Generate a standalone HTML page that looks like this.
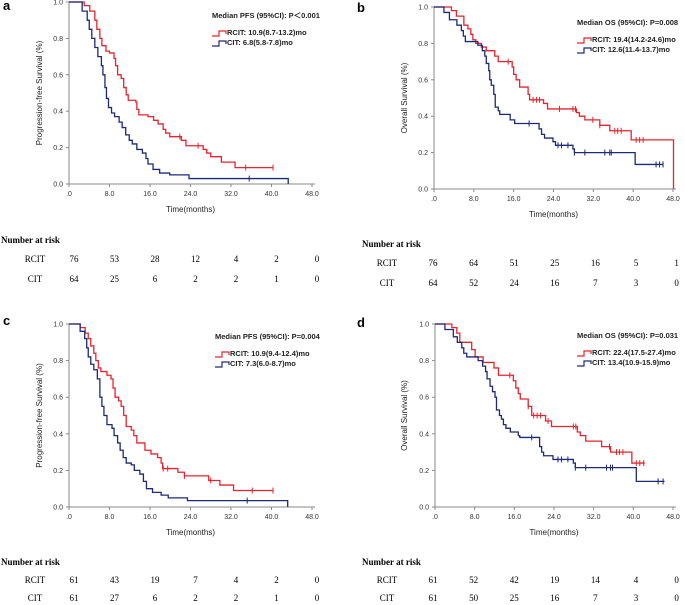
<!DOCTYPE html>
<html><head><meta charset="utf-8">
<style>
html,body{margin:0;padding:0;background:#fff;}
svg{display:block;font-family:"Liberation Sans",Arial,sans-serif;}
.serif{font-family:"Liberation Serif","Times New Roman",serif;}
</style></head>
<body>
<svg id="fig" width="685" height="605" viewBox="0 0 685 605" xmlns="http://www.w3.org/2000/svg"></svg>
<script>
// ---------- DATA ----------
const xTicks = [0, 8, 16, 24, 32, 40, 48];
const xTickLabels = [".0", "8.0", "16.0", "24.0", "32.0", "40.0", "48.0"];
const yTicks = [0, 0.2, 0.4, 0.6, 0.8, 1.0];
const yTickLabels = ["0.0", "0.2", "0.4", "0.6", "0.8", "1.0"];

// [time at which level starts, survival level]
const aRed = [[0,1],[3.0,0.98],[4.1,0.95],[5.1,0.9],[5.5,0.85],[6.1,0.8],[6.5,0.76],[7.3,0.73],[8.0,0.72],[8.9,0.69],[9.2,0.65],[9.6,0.6],[10.3,0.58],[10.8,0.53],[11.3,0.49],[11.7,0.46],[13.2,0.45],[13.4,0.41],[13.8,0.38],[15.6,0.37],[16.7,0.35],[17.6,0.33],[18.6,0.3],[19.1,0.28],[19.9,0.26],[22.2,0.24],[23.1,0.21],[26.5,0.19],[27.2,0.17],[28.0,0.15],[30.1,0.12],[32.8,0.09],[40.3,0.09]];
const aRedCens = [21.9, 25.5, 34.9, 40.3];
const aBlue = [[0,1],[2.6,0.95],[3.6,0.9],[4.0,0.85],[4.5,0.8],[5.1,0.75],[5.7,0.7],[6.4,0.65],[6.7,0.6],[7.1,0.53],[7.4,0.47],[7.8,0.42],[8.4,0.39],[9.0,0.37],[9.9,0.34],[10.5,0.31],[11.2,0.27],[11.9,0.24],[12.5,0.22],[13.4,0.19],[14.5,0.17],[15.2,0.14],[15.6,0.11],[16.6,0.08],[17.9,0.06],[19.9,0.05],[23.7,0.03],[43.3,0]];
const aBlueCens = [35.6];

const bRed = [[0,1],[3.5,0.98],[4.5,0.95],[6.0,0.9],[6.8,0.88],[7.4,0.85],[7.8,0.82],[8.4,0.8],[9.5,0.78],[10.5,0.76],[12.2,0.73],[12.9,0.7],[15.7,0.67],[16.0,0.63],[16.5,0.6],[17.2,0.56],[18.9,0.52],[19.2,0.49],[22.0,0.47],[22.8,0.44],[28.6,0.42],[29.2,0.4],[30.3,0.38],[33.3,0.35],[35.3,0.32],[39.6,0.27],[48.1,0]];
const bRedCens = [14.9, 19.9, 20.6, 21.2, 25.2, 27.9, 28.4, 31.9, 33.3, 36.3, 36.9, 37.6, 40.6, 41.3, 42.0];
const bBlue = [[0,1],[2.0,0.97],[3.1,0.93],[4.6,0.9],[5.5,0.87],[5.9,0.84],[6.3,0.81],[8.8,0.79],[9.7,0.76],[10.2,0.73],[10.5,0.69],[11.0,0.65],[11.2,0.6],[11.5,0.57],[12.0,0.52],[12.3,0.45],[12.9,0.43],[13.2,0.41],[15.3,0.38],[16.2,0.36],[21.1,0.33],[21.6,0.3],[22.2,0.28],[23.9,0.26],[24.4,0.24],[27.9,0.22],[28.2,0.2],[40.4,0.135],[46.0,0.135]];
const bBlueCens = [19.1, 24.9, 25.6, 26.9, 28.2, 30.3, 34.3, 35.3, 35.6, 44.6, 45.3, 46.0];

const cRed = [[0,1],[2.2,0.98],[3.2,0.95],[3.8,0.92],[4.3,0.88],[4.9,0.84],[5.3,0.8],[5.8,0.76],[6.3,0.74],[7.5,0.72],[8.3,0.7],[8.7,0.65],[9.1,0.6],[9.8,0.58],[10.3,0.55],[10.8,0.5],[11.3,0.44],[12.3,0.42],[12.8,0.39],[13.4,0.35],[15.0,0.31],[16.2,0.29],[17.5,0.27],[18.2,0.24],[18.5,0.21],[21.5,0.19],[22.8,0.17],[27.6,0.145],[29.8,0.12],[32.5,0.09],[40.3,0.09]];
const cRedCens = [18.6, 19.5, 22.8, 28.0, 36.2, 40.3];
const cBlue = [[0,1],[2.2,0.96],[3.1,0.92],[3.5,0.87],[3.8,0.82],[4.3,0.78],[4.9,0.75],[5.6,0.7],[6.1,0.6],[6.5,0.55],[6.9,0.5],[7.5,0.45],[8.5,0.43],[8.9,0.39],[9.6,0.35],[10.1,0.31],[10.7,0.27],[11.3,0.24],[12.3,0.23],[12.9,0.2],[14.0,0.18],[14.7,0.14],[15.3,0.1],[16.5,0.08],[18.2,0.065],[19.6,0.05],[23.4,0.035],[43.2,0]];
const cBlueCens = [35.2];

const dRed = [[0,1],[3.4,0.98],[4.4,0.95],[5.0,0.9],[7.4,0.86],[8.1,0.82],[9.7,0.79],[11.9,0.76],[12.8,0.72],[15.8,0.69],[16.3,0.65],[16.8,0.62],[17.2,0.59],[18.8,0.55],[19.5,0.5],[22.3,0.47],[23.5,0.44],[28.7,0.41],[29.3,0.39],[30.4,0.36],[33.6,0.33],[35.4,0.3],[39.7,0.24],[42.3,0.24]];
const dRedCens = [15.1, 18.8, 19.9, 20.6, 21.3, 22.8, 27.9, 28.4, 35.2, 36.6, 37.2, 37.9, 40.6, 41.3, 42.1];
const dBlue = [[0,1],[2.0,0.97],[3.7,0.93],[4.5,0.9],[5.4,0.87],[5.8,0.84],[6.4,0.82],[8.7,0.8],[9.6,0.77],[10.2,0.74],[10.5,0.7],[11.1,0.66],[11.6,0.63],[12.1,0.6],[12.4,0.53],[13.0,0.5],[13.4,0.48],[13.8,0.45],[14.3,0.43],[15.2,0.41],[16.8,0.39],[17.1,0.38],[21.1,0.33],[21.5,0.3],[21.9,0.28],[23.8,0.26],[27.9,0.24],[28.3,0.215],[40.6,0.14],[46.3,0.14]];
const dBlueCens = [19.5, 24.8, 25.5, 26.8, 28.3, 30.4, 34.6, 35.4, 35.8, 45.0, 46.0];

const riskGroups = ["RCIT", "CIT"];
const aRiskRCIT = [76, 53, 28, 12, 4, 2, 0];
const aRiskCIT = [64, 25, 6, 2, 2, 1, 0];
const bRiskRCIT = [76, 64, 51, 25, 16, 5, 1];
const bRiskCIT = [64, 52, 24, 16, 7, 3, 0];
const cRiskRCIT = [61, 43, 19, 7, 4, 2, 0];
const cRiskCIT = [61, 27, 6, 2, 2, 1, 0];
const dRiskRCIT = [61, 52, 42, 19, 14, 4, 0];
const dRiskCIT = [61, 50, 25, 16, 7, 3, 0];

// ---------- RENDER ----------
const NS = "http://www.w3.org/2000/svg";
const svg = document.getElementById("fig");
const RED = "#e8232f", BLUE = "#1c2a78", AX = "#8a8a8a";

function mk(tag, attrs, parent, text) {
  const e = document.createElementNS(NS, tag);
  for (const k in attrs) e.setAttribute(k, attrs[k]);
  if (text !== undefined) e.textContent = text;
  (parent || svg).appendChild(e);
  return e;
}

function panel(p) {
  const g = mk("g", {});
  
  
  const sx = t => p.x0 + (t / 48) * (p.x1 - p.x0);
  const sy = s => p.y0 - s * (p.y0 - p.y1);

  const lbl = mk("text", {x: p.lx, y: p.ly, "font-size": 13, "font-weight": "bold"}, g, p.id);
  
  

  const ax = mk("path", {d: `M${p.x0},${p.y1} V${p.y0} H${p.x1 + 3}`, stroke: AX, fill: "none", "stroke-width": 1}, g);
  
  
  yTicks.forEach((v, i) => {
    mk("line", {x1: p.x0 - 3, x2: p.x0, y1: sy(v), y2: sy(v), stroke: AX}, g);
    const t = mk("text", {x: p.x0 - 6, y: sy(v) + 2.5, "font-size": 7, "text-anchor": "end", fill: "#333"}, g, yTickLabels[i]);
    
    
  });
  xTicks.forEach((v, i) => {
    mk("line", {x1: sx(v), x2: sx(v), y1: p.y0, y2: p.y0 + 3, stroke: AX}, g);
    const t = mk("text", {x: sx(v), y: p.y0 + 12, "font-size": 7, "text-anchor": "middle", fill: "#333"}, g, xTickLabels[i]);
    
    
  });
  const xt = mk("text", {x: (p.x0 + p.x1) / 2, y: p.y0 + 28, "font-size": 8, "text-anchor": "middle", fill: "#222"}, g, "Time(months)");
  
  
  const ym = (p.y0 + p.y1) / 2;
  const yt = mk("text", {x: p.ytx, y: ym, "font-size": 8, "text-anchor": "middle", fill: "#222", transform: `rotate(-90 ${p.ytx} ${ym})`}, g, p.ytitle);
  
  

  function curve(pts, cens, col, name) {
    let d = `M${sx(pts[0][0])},${sy(pts[0][1])}`;
    for (let i = 1; i < pts.length; i++) {
      d += ` H${sx(pts[i][0])} V${sy(pts[i][1])}`;
    }
    const c = mk("path", {d, stroke: col, fill: "none", "stroke-width": 1.3}, g);
    
    
    cens.forEach(t => {
      let s = pts[0][1];
      for (const q of pts) if (q[0] <= t) s = q[1];
      const m = mk("path", {d: `M${sx(t)},${sy(s) - 3} V${sy(s) + 3}`, stroke: col, "stroke-width": 1}, g);
      
      
    });
  }
  curve(p.red, p.redC, RED, "rcit");
  curve(p.blue, p.blueC, BLUE, "cit");

  const lt = mk("text", {x: p.legx, y: p.legy, "font-size": 7.5, "font-weight": "bold", fill: "#222"}, g, p.legTitle);
  
  
  [[RED, p.legR, 17], [BLUE, p.legB, 27]].forEach(([col, txt, dy]) => {
    const yy = p.legy + dy;
    const sym = mk("path", {d: `M${p.legx},${yy + 1} H${p.legx + 7} V${yy - 4} H${p.legx + 14} V${yy - 1}`, stroke: col, fill: "none", "stroke-width": 1.2}, g);
    
    
    const e = mk("text", {x: p.legx + 15, y: yy, "font-size": 7.5, "font-weight": "bold", fill: "#222"}, g, txt);
    
    
  });

  const nr = mk("text", {x: p.nrx, y: p.nry, "font-size": 9, "font-weight": "bold", class: "serif"}, g, "Number at risk");
  
  
  [p.riskR, p.riskC].forEach((row, r) => {
    const yy = p.nry + p.rowGap * (r + 1) + (r === 1 ? p.extra : 0);
    const gl = mk("text", {x: p.grpx, y: yy, "font-size": 9, "text-anchor": "middle", class: "serif"}, g, riskGroups[r]);
    
    
    row.forEach((v, i) => {
      const t = mk("text", {x: p.c0 + i * p.cstep, y: yy, "font-size": 9, "text-anchor": "middle", class: "serif"}, g, v);
      
      
    });
  });
}

panel({id: "a", lx: 3, ly: 10, x0: 69, x1: 312, y0: 184, y1: 2, ytx: 42, ytitle: "Progression-free Survival (%)",
  red: aRed, redC: aRedCens, blue: aBlue, blueC: aBlueCens,
  legx: 212, legy: 18, legTitle: "Median PFS (95%CI): P\uFF1C0.001", legR: "RCIT: 10.9(8.7-13.2)mo", legB: "CIT: 6.8(5.8-7.8)mo",
  nrx: 1, nry: 243, rowGap: 19, extra: 1, grpx: 35, c0: 74, cstep: 40.5, riskR: aRiskRCIT, riskC: aRiskCIT});
panel({id: "b", lx: 357, ly: 12, x0: 434, x1: 673, y0: 189, y1: 7, ytx: 407, ytitle: "Overall Survival (%)",
  red: bRed, redC: bRedCens, blue: bBlue, blueC: bBlueCens,
  legx: 577, legy: 25, legTitle: "Median OS (95%CI): P=0.008", legR: "RCIT: 19.4(14.2-24.6)mo", legB: "CIT: 12.6(11.4-13.7)mo",
  nrx: 362, nry: 247, rowGap: 19, extra: 1, grpx: 387, c0: 433, cstep: 40.6, riskR: bRiskRCIT, riskC: bRiskCIT});
panel({id: "c", lx: 3, ly: 325, x0: 69, x1: 312, y0: 507, y1: 324, ytx: 42, ytitle: "Progression-free Survival (%)",
  red: cRed, redC: cRedCens, blue: cBlue, blueC: cBlueCens,
  legx: 215, legy: 339, legTitle: "Median PFS (95%CI): P=0.004", legR: "RCIT: 10.9(9.4-12.4)mo", legB: "CIT: 7.3(6.0-8.7)mo",
  nrx: 1, nry: 565, rowGap: 18, extra: 0, grpx: 35, c0: 74, cstep: 40.5, riskR: cRiskRCIT, riskC: cRiskCIT});
panel({id: "d", lx: 357, ly: 327, x0: 435, x1: 673, y0: 507, y1: 324, ytx: 407, ytitle: "Overall Survival (%)",
  red: dRed, redC: dRedCens, blue: dBlue, blueC: dBlueCens,
  legx: 577, legy: 338, legTitle: "Median OS (95%CI): P=0.031", legR: "RCIT: 22.4(17.5-27.4)mo", legB: "CIT: 13.4(10.9-15.9)mo",
  nrx: 362, nry: 565, rowGap: 18, extra: 0, grpx: 387, c0: 433, cstep: 40.6, riskR: dRiskRCIT, riskC: dRiskCIT});
</script>
</body></html>
